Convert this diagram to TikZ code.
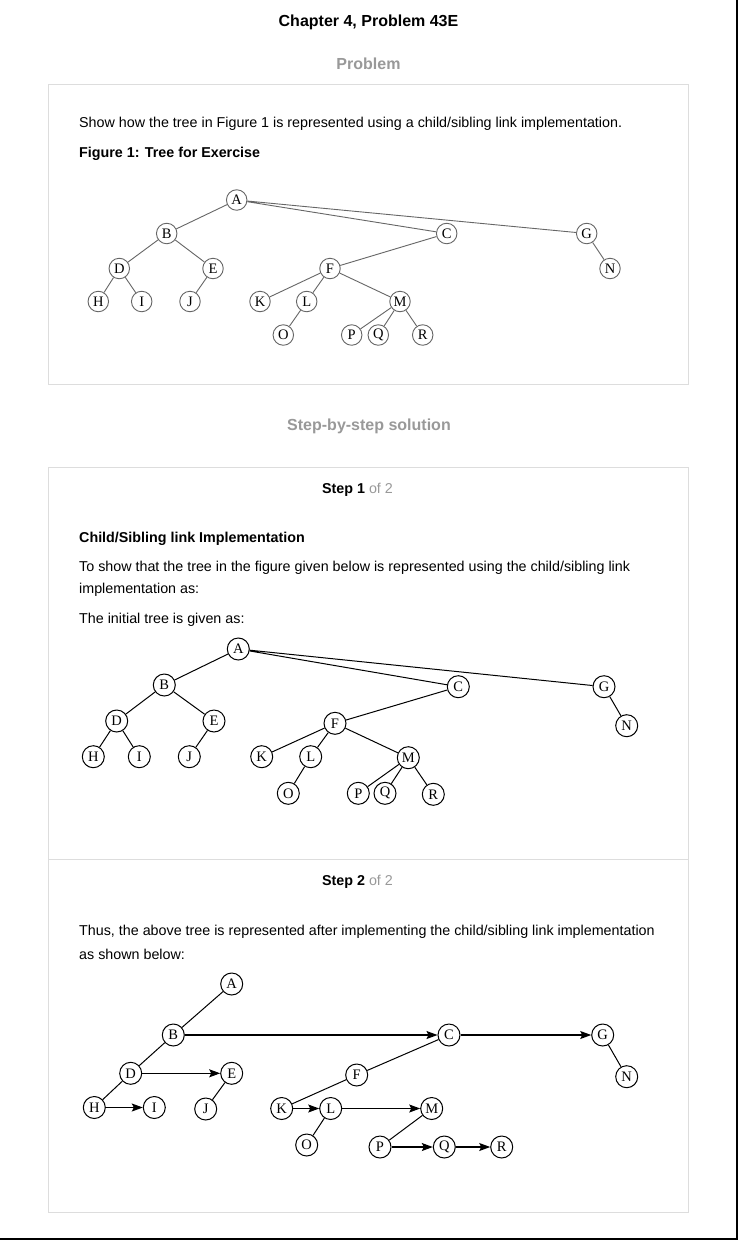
\documentclass[tikz,border=0pt]{standalone}
\usepackage{fontspec}
\setmainfont{Liberation Sans}
\newfontfamily\treefont{Liberation Serif}
\usetikzlibrary{arrows.meta}
\definecolor{boxgray}{HTML}{DDDDDD}
\definecolor{headgray}{HTML}{999999}
\definecolor{edgegray}{HTML}{666666}
\begin{document}
\begin{tikzpicture}[x=1pt,y=-1pt,
  txt/.style={inner sep=0pt, anchor=west, font=\fontsize{14.3}{16}\selectfont},
  btxt/.style={inner sep=0pt, anchor=west, font=\bfseries\fontsize{14.3}{16}\selectfont},
  head/.style={inner sep=0pt, font=\bfseries\fontsize{16}{18}\selectfont, text=headgray},
  panel/.style={draw=boxgray, line width=1pt},
  ta/.style={circle, draw=edgegray, line width=0.9pt, fill=white, inner sep=0pt, minimum size=20.5pt, font=\treefont\fontsize{14.5}{14.5}\selectfont},
  tb/.style={circle, draw=black, line width=1pt, fill=white, inner sep=0pt, minimum size=22pt, font=\treefont\fontsize{14.5}{14.5}\selectfont},
  ea/.style={draw=edgegray, line width=0.9pt},
  eb/.style={draw=black, line width=1pt},
  arr/.style={draw=black, line width=1.1pt, -{Stealth[length=11pt,width=8pt,inset=2pt]}}
]
\useasboundingbox (0,0) rectangle (738,1240);
\fill[white] (0,0) rectangle (738,1240);
\draw[line width=2pt] (736.5,0) -- (736.5,1238.7) -- (0,1238.7);

% headings
\node[inner sep=0pt, font=\bfseries\fontsize{16}{18}\selectfont] (title) at (368.5,22) {Chapter 4, Problem 43E};
\node[head] (hprob) at (368.5,64) {Problem};
\node[head] (hstep) at (369,426) {Step-by-step solution};

% panels
\draw[panel] (48.5,84.5) rectangle (688.5,384.5);
\draw[panel] (48.5,467.5) rectangle (688.5,1212.5);
\draw[panel] (48.5,859.5) -- (688.5,859.5);

% problem text
\node[txt] (ptext) at (79,124) {Show how the tree in Figure 1 is represented using a child/sibling link implementation.};
\node[btxt] (fig) at (79,154) {Figure 1: Tree for Exercise};

% step 1 text
\node[inner sep=0pt, font=\fontsize{14.3}{16}\selectfont] (s1) at (357.5,490) {\textbf{Step 1} \textcolor{headgray}{of 2}};
\node[btxt] (s1h) at (79,539) {Child/Sibling link Implementation};
\node[txt] (s1a) at (79,568) {To show that the tree in the figure given below is represented using the child/sibling link};
\node[txt] (s1b) at (79,590) {implementation as:};
\node[txt] (s1c) at (79,620) {The initial tree is given as:};

% step 2 text
\node[inner sep=0pt, font=\fontsize{14.3}{16}\selectfont] (s2) at (357.5,882) {\textbf{Step 2} \textcolor{headgray}{of 2}};
\node[txt] (s2a) at (79,932) {Thus, the above tree is represented after implementing the child/sibling link implementation};
\node[txt] (s2b) at (79,954) {as shown below:};

% ---------- Tree 1 ----------
\node[ta] (aA) at (236.7,200) {A};
\node[ta] (aB) at (166.7,233.5) {B};
\node[ta] (aC) at (446.7,233.5) {C};
\node[ta] (aG) at (586.7,233.5) {G};
\node[ta] (aD) at (119.3,268.5) {D};
\node[ta] (aE) at (213,268.5) {E};
\node[ta] (aF) at (330,268.5) {F};
\node[ta] (aN) at (610,268.5) {N};
\node[ta] (aH) at (98.3,301.5) {H};
\node[ta] (aI) at (141.7,301.5) {I};
\node[ta] (aJ) at (190,301.5) {J};
\node[ta] (aK) at (260,301.5) {K};
\node[ta] (aL) at (306.7,301.5) {L};
\node[ta] (aM) at (400,301.5) {M};
\node[ta] (aO) at (283.3,335) {O};
\node[ta] (aP) at (351.7,335) {P};
\node[ta] (aQ) at (378.3,335) {Q};
\node[ta] (aR) at (422.7,335) {R};
\path[ea] (aA) -- (aB) (aB) -- (aD) (aB) -- (aE) (aD) -- (aH) (aD) -- (aI) (aE) -- (aJ)
  (aA) -- (aC) (aA) -- (aG) (aC) -- (aF) (aG) -- (aN)
  (aF) -- (aK) (aF) -- (aL) (aF) -- (aM) (aL) -- (aO)
  (aM) -- (aP) (aM) -- (aQ) (aM) -- (aR);

% ---------- Tree 2 ----------
\node[tb] (bA) at (238.3,649) {A};
\node[tb] (bB) at (164.3,685) {B};
\node[tb] (bC) at (458.3,686.7) {C};
\node[tb] (bG) at (604,686.7) {G};
\node[tb] (bD) at (116.7,721) {D};
\node[tb] (bE) at (214,721) {E};
\node[tb] (bF) at (335,723.3) {F};
\node[tb] (bN) at (626.7,725.7) {N};
\node[tb] (bH) at (93.3,756.7) {H};
\node[tb] (bI) at (139.3,756.7) {I};
\node[tb] (bJ) at (189.3,756.7) {J};
\node[tb] (bK) at (261.7,756.7) {K};
\node[tb] (bL) at (310.7,756.7) {L};
\node[tb] (bM) at (408.3,757.7) {M};
\node[tb] (bO) at (288.3,793.3) {O};
\node[tb] (bP) at (358.3,793.3) {P};
\node[tb] (bQ) at (385,793.3) {Q};
\node[tb] (bR) at (433.3,794.3) {R};
\path[eb] (bA) -- (bB) (bB) -- (bD) (bB) -- (bE) (bD) -- (bH) (bD) -- (bI) (bE) -- (bJ)
  (bA) -- (bC) (bA) -- (bG) (bC) -- (bF) (bG) -- (bN)
  (bF) -- (bK) (bF) -- (bL) (bF) -- (bM) (bL) -- (bO)
  (bM) -- (bP) (bM) -- (bQ) (bM) -- (bR);

% ---------- Tree 3 ----------
\node[tb] (cA) at (231.7,984) {A};
\node[tb] (cB) at (173.3,1035) {B};
\node[tb] (cC) at (449,1035) {C};
\node[tb] (cG) at (602.7,1035) {G};
\node[tb] (cD) at (130.7,1073.3) {D};
\node[tb] (cE) at (231.7,1073.3) {E};
\node[tb] (cF) at (356.7,1075) {F};
\node[tb] (cN) at (626.7,1076.7) {N};
\node[tb] (cH) at (94.3,1107.5) {H};
\node[tb] (cI) at (154.3,1107.5) {I};
\node[tb] (cJ) at (205.7,1109) {J};
\node[tb] (cK) at (281.7,1108.5) {K};
\node[tb] (cL) at (330.7,1108.5) {L};
\node[tb] (cM) at (431.7,1108.5) {M};
\node[tb] (cO) at (306.7,1145) {O};
\node[tb] (cP) at (380,1147) {P};
\node[tb] (cQ) at (444.3,1147) {Q};
\node[tb] (cR) at (501.7,1147) {R};
\path[eb] (cA) -- (cB) (cB) -- (cD) (cD) -- (cH) (cE) -- (cJ) (cC) -- (cF) (cF) -- (cK)
  (cL) -- (cO) (cM) -- (cP) (cG) -- (cN);
\draw[arr] (cB) -- (cC);
\draw[arr] (cC) -- (cG);
\draw[arr] (cD) -- (cE);
\draw[arr] (cH) -- (cI);
\draw[arr] (cK) -- (cL);
\draw[arr] (cL) -- (cM);
\draw[arr] (cP) -- (cQ);
\draw[arr] (cQ) -- (cR);
\end{tikzpicture}
\end{document}
